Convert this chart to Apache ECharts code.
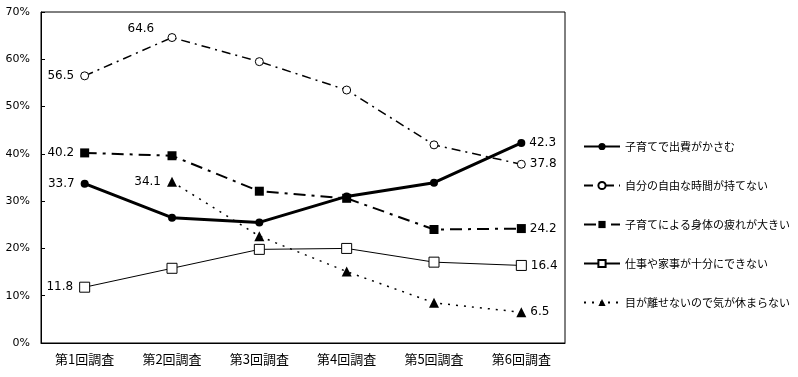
<!DOCTYPE html>
<html>
<head>
<meta charset="utf-8">
<script src="https://cdn.jsdelivr.net/npm/echarts@6/dist/echarts.min.js"></script>
<style>
  html, body { margin: 0; padding: 0; background: #fff; }
  #chart { width: 798px; height: 377px; }
</style>
</head>
<body>
<div id="chart"></div>
<script>
// 調査回
const categories = ['第1回調査', '第2回調査', '第3回調査', '第4回調査', '第5回調査', '第6回調査'];
const yTicks = [0, 10, 20, 30, 40, 50, 60, 70];

// 各項目の割合 (%)
const expense   = [33.7, 26.5, 25.5, 31.0, 33.9, 42.3];   // 子育てで出費がかさむ
const freeTime  = [56.5, 64.6, 59.5, 53.5, 41.9, 37.8];   // 自分の自由な時間が持てない
const tired     = [40.2, 39.6, 32.1, 30.6, 24.0, 24.2];   // 子育てによる身体の疲れが大きい
const workHome  = [11.8, 15.8, 19.8, 20.0, 17.1, 16.4];   // 仕事や家事が十分にできない
const noRest    = [null, 34.1, 22.6, 15.1, 8.5, 6.5];     // 目が離せないので気が休まらない

const names = [
    '子育てで出費がかさむ',
    '自分の自由な時間が持てない',
    '子育てによる身体の疲れが大きい',
    '仕事や家事が十分にできない',
    '目が離せないので気が休まらない'
];

const labelFont = { color: '#000', fontSize: 12, fontFamily: 'DejaVu Sans' };

// 最初と最後の点だけラベルを出す
function withLabels(values, extra) {
    const first = values.findIndex(v => v !== null);
    return values.map((v, i) => {
        if (v === null) return '-';
        if (i === first) {
            return { value: v, label: Object.assign({ show: true, position: 'left', distance: 6 }, labelFont) };
        }
        if (i === values.length - 1) {
            return { value: v, label: Object.assign({ show: true, position: 'right', distance: 4 }, labelFont) };
        }
        if (extra && extra[i]) {
            return { value: v, label: Object.assign({ show: true }, labelFont, extra[i]) };
        }
        return v;
    });
}

const chart = echarts.init(document.getElementById('chart'));

const option = {
    animation: false,
    backgroundColor: '#fff',
    grid: {
        left: 41, right: 233, top: 12, bottom: 34,
        show: true, borderColor: '#000', borderWidth: 1
    },
    legend: {
        orient: 'vertical',
        left: 578, top: 136,
        itemWidth: 36, itemHeight: 9, itemGap: 28,
        textStyle: { color: '#000', fontSize: 11, fontFamily: 'Noto Sans CJK JP' },
        data: names
    },
    xAxis: {
        type: 'category',
        data: categories,
        boundaryGap: true,
        axisLine: { lineStyle: { color: '#000', width: 1 } },
        axisTick: { inside: true, length: 4, lineStyle: { color: '#000' } },
        axisLabel: { color: '#000', fontSize: 13, fontFamily: 'Noto Sans CJK JP', margin: 10 },
        splitLine: { show: false }
    },
    yAxis: {
        type: 'value',
        min: yTicks[0], max: yTicks[yTicks.length - 1], interval: 10,
        axisLine: { show: true, lineStyle: { color: '#000', width: 1 } },
        axisTick: { show: true, inside: true, length: 4, lineStyle: { color: '#000' } },
        axisLabel: { color: '#000', fontSize: 11, fontFamily: 'DejaVu Sans', margin: 11, formatter: '{value}%' },
        splitLine: { show: false }
    },
    series: [
        {
            name: names[0], type: 'line',
            data: withLabels(expense),
            symbol: 'circle', symbolSize: 8,
            itemStyle: { color: '#000' },
            lineStyle: { color: '#000', width: 3 },
            z: 5
        },
        {
            name: names[1], type: 'line',
            data: withLabels(freeTime, { 1: { position: [-40, -10] } }),
            symbol: 'circle', symbolSize: 8,
            itemStyle: { color: '#fff', borderColor: '#000', borderWidth: 1 },
            lineStyle: { color: '#000', width: 1.5, type: [9, 5, 2, 5] }
        },
        {
            name: names[2], type: 'line',
            data: withLabels(tired),
            symbol: 'rect', symbolSize: 9,
            itemStyle: { color: '#000' },
            lineStyle: { color: '#000', width: 2, type: [12, 6, 3, 6] }
        },
        {
            name: names[3], type: 'line',
            data: withLabels(workHome),
            symbol: 'rect', symbolSize: 10,
            itemStyle: { color: '#fff', borderColor: '#000', borderWidth: 1 },
            lineStyle: { color: '#000', width: 1 }
        },
        {
            name: names[4], type: 'line',
            data: withLabels(noRest),
            symbol: 'triangle', symbolSize: 10,
            itemStyle: { color: '#000' },
            lineStyle: { color: '#000', width: 1.5, type: [2, 6] }
        }
    ]
};

chart.setOption(option);
</script>
</body>
</html>
